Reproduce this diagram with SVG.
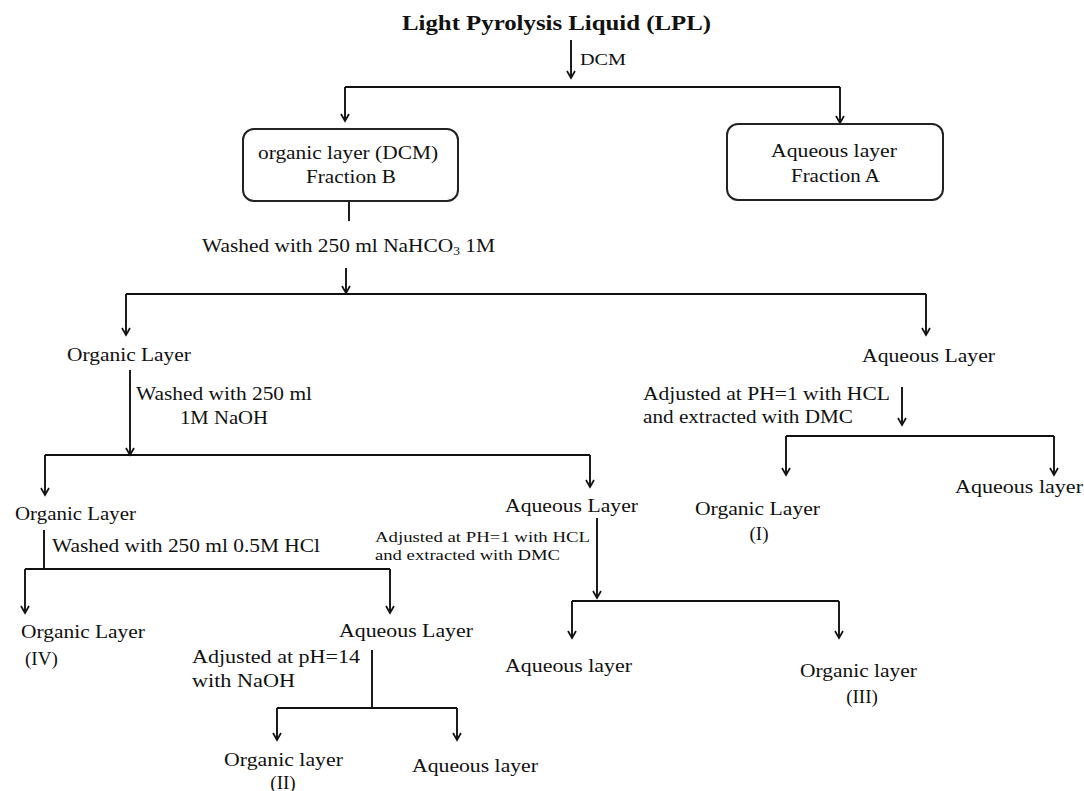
<svg xmlns="http://www.w3.org/2000/svg" width="1084" height="791" viewBox="0 0 1084 791">
<style>
text{font-family:"Liberation Serif","Times New Roman",serif;fill:#111;font-size:19px}
.t{font-weight:bold;font-size:22px}
.s{font-size:14.5px}
.c{stroke:#111;stroke-width:1.9;fill:none}
.a{marker-end:url(#ah)}
.box{fill:#fff;stroke:#222;stroke-width:2}
</style>
<defs>
<marker id="ah" markerWidth="12" markerHeight="12" refX="10" refY="6" orient="auto" markerUnits="userSpaceOnUse">
<path d="M3,2 L10,6 L3,10" fill="none" stroke="#111" stroke-width="1.7"/>
</marker>
</defs>
<rect width="1084" height="791" fill="#fff"/>
<g id="connectors">
<path class="c a" d="M571,40 V78"/>
<path class="c" d="M345,87 H840"/>
<path class="c a" d="M345,87 V121"/>
<path class="c a" d="M840,87 V123"/>
<path class="c" d="M349,201 V221"/>
<path class="c a" d="M346,268 V293"/>
<path class="c" d="M126,294 H926"/>
<path class="c a" d="M126,294 V335"/>
<path class="c a" d="M926,294 V335"/>
<path class="c a" d="M130,370 V455"/>
<path class="c" d="M45,455 H590"/>
<path class="c a" d="M45,455 V495"/>
<path class="c a" d="M590,455 V487"/>
<path class="c a" d="M902,387 V425"/>
<path class="c" d="M786,436 H1054"/>
<path class="c a" d="M786,436 V475"/>
<path class="c a" d="M1054,436 V475"/>
<path class="c" d="M44,530 V569"/>
<path class="c" d="M25,569 H390"/>
<path class="c a" d="M25,569 V613"/>
<path class="c a" d="M390,569 V613"/>
<path class="c a" d="M597,518 V598"/>
<path class="c" d="M572,601 H839"/>
<path class="c a" d="M572,601 V638"/>
<path class="c a" d="M839,601 V638"/>
<path class="c" d="M372,650 V708"/>
<path class="c" d="M277,708 H457"/>
<path class="c a" d="M277,708 V740"/>
<path class="c a" d="M457,708 V740"/>
</g>
<g id="title"><text class="t" x="402" y="30" textLength="309" lengthAdjust="spacingAndGlyphs">Light Pyrolysis Liquid (LPL)</text></g>
<g id="lbl-dcm"><text x="580" y="65" textLength="46" lengthAdjust="spacingAndGlyphs" style="font-size:16px">DCM</text></g>
<g id="fractionB">
<rect class="box" x="243" y="129" width="215" height="72" rx="11"/>
<text x="258" y="159" textLength="180" lengthAdjust="spacingAndGlyphs">organic layer (DCM)</text>
<text x="306" y="183" textLength="90" lengthAdjust="spacingAndGlyphs">Fraction B</text>
</g>
<g id="fractionA">
<rect class="box" x="727" y="124" width="216" height="76" rx="11"/>
<text x="771" y="157" textLength="126" lengthAdjust="spacingAndGlyphs">Aqueous layer</text>
<text x="791" y="182" textLength="89" lengthAdjust="spacingAndGlyphs">Fraction A</text>
</g>
<g id="lbl-nahco3"><text x="202" y="252" textLength="293" lengthAdjust="spacingAndGlyphs">Washed with 250 ml NaHCO<tspan style="font-size:12px" dy="3">3</tspan><tspan dy="-3"> 1M</tspan></text></g>
<g id="organic1"><text x="67" y="361" textLength="124" lengthAdjust="spacingAndGlyphs">Organic Layer</text></g>
<g id="lbl-naoh">
<text x="136" y="400" textLength="176" lengthAdjust="spacingAndGlyphs">Washed with 250 ml</text>
<text x="180" y="424" textLength="88" lengthAdjust="spacingAndGlyphs">1M NaOH</text>
</g>
<g id="aqueous1"><text x="862" y="362" textLength="133" lengthAdjust="spacingAndGlyphs">Aqueous Layer</text></g>
<g id="lbl-hcl1">
<text x="643" y="400" textLength="247" lengthAdjust="spacingAndGlyphs">Adjusted at PH=1 with HCL</text>
<text x="643" y="423" textLength="210" lengthAdjust="spacingAndGlyphs">and extracted with DMC</text>
</g>
<g id="organicI">
<text x="695" y="515" textLength="125" lengthAdjust="spacingAndGlyphs">Organic Layer</text>
<text x="759" y="540" text-anchor="middle">(I)</text>
</g>
<g id="aqueousR"><text x="955" y="493" textLength="128" lengthAdjust="spacingAndGlyphs">Aqueous layer</text></g>
<g id="organic2"><text x="15" y="520" textLength="121" lengthAdjust="spacingAndGlyphs">Organic Layer</text></g>
<g id="aqueous2"><text x="505" y="512" textLength="133" lengthAdjust="spacingAndGlyphs">Aqueous Layer</text></g>
<g id="lbl-hcl2">
<text class="s" x="375" y="542" textLength="215" lengthAdjust="spacingAndGlyphs">Adjusted at PH=1 with HCL</text>
<text class="s" x="375" y="560" textLength="185" lengthAdjust="spacingAndGlyphs">and extracted with DMC</text>
</g>
<g id="lbl-hcl05"><text x="52" y="552" textLength="268" lengthAdjust="spacingAndGlyphs">Washed with 250 ml 0.5M HCl</text></g>
<g id="organicIV">
<text x="21" y="638" textLength="124" lengthAdjust="spacingAndGlyphs">Organic Layer</text>
<text x="25" y="665">(IV)</text>
</g>
<g id="aqueous3"><text x="339" y="637" textLength="134" lengthAdjust="spacingAndGlyphs">Aqueous Layer</text></g>
<g id="lbl-ph14">
<text x="192" y="663" textLength="168" lengthAdjust="spacingAndGlyphs">Adjusted at pH=14</text>
<text x="192" y="687" textLength="103" lengthAdjust="spacingAndGlyphs">with NaOH</text>
</g>
<g id="aqueous4"><text x="505" y="672" textLength="127" lengthAdjust="spacingAndGlyphs">Aqueous layer</text></g>
<g id="organicIII">
<text x="800" y="677" textLength="117" lengthAdjust="spacingAndGlyphs">Organic layer</text>
<text x="862" y="703" text-anchor="middle">(III)</text>
</g>
<g id="organicII">
<text x="224" y="766" textLength="119" lengthAdjust="spacingAndGlyphs">Organic layer</text>
<text x="283" y="789" text-anchor="middle">(II)</text>
</g>
<g id="aqueous5"><text x="412" y="772" textLength="126" lengthAdjust="spacingAndGlyphs">Aqueous layer</text></g>
</svg>
